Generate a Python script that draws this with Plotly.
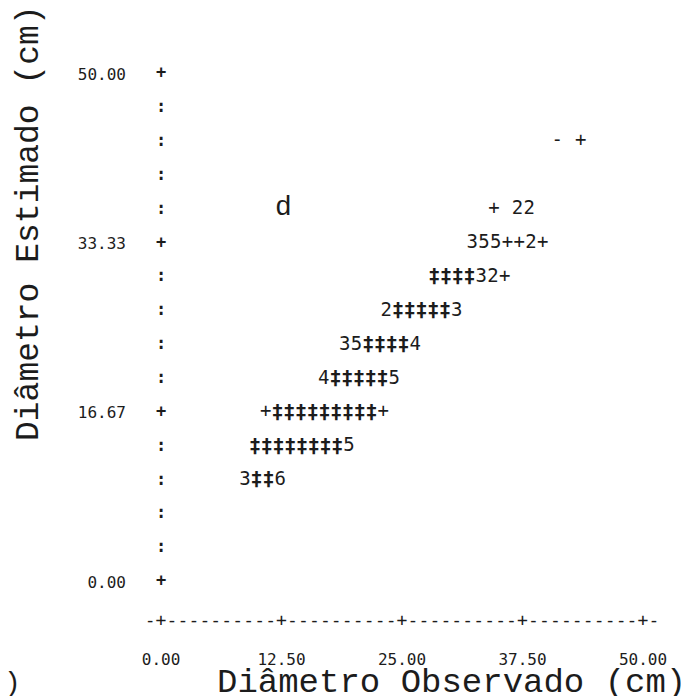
import plotly.graph_objects as go

# ---- data: printed rows of the line-printer scatter (y = estimated, x = observed)
row_y = [43.33, 36.67, 33.33, 30.00, 26.67, 23.33, 20.00, 16.67, 13.33, 10.00]
row_x0 = [41.10, 34.53, 32.28, 28.34, 23.36, 19.06, 16.88, 10.86, 9.75, 8.70]
row_text = ["- +", "+ 22", "355++2+", "‡‡‡‡32+", "2‡‡‡‡‡3",
            "35‡‡‡‡4", "4‡‡‡‡‡5", "+‡‡‡‡‡‡‡‡‡+", "‡‡‡‡‡‡‡‡5", "3‡‡6"]
col_step = 1.22

x_ticks = [0, 12.5, 25, 37.5, 50]
x_ticktext = ["0.00", "12.50", "25.00", "37.50", "50.00"]
y_ticks = [0, 16.67, 33.33, 50]
y_ticktext = ["0.00", "16.67", "33.33", "50.00"]
y_rows = [k * 50 / 15 for k in range(16)]
x_axis_row = -3.9
x_cols_per_tick = 11

INK = "#1c1c1c"
OFF = 8  # page body margin
W, H = 689 - OFF, 696 - OFF
ML, MR, MT, MB = 127, 20, 12, 48
XR = [-2.70, 52.70]
YR = [-6.50, 55.31]

# expand glyphs
gx, gy, gt = [], [], []
bx, by, bt = [], [], []
for y, x0, s in zip(row_y, row_x0, row_text):
    for i, ch in enumerate(s):
        if ch == " ":
            continue
        if ch == "‡":
            bx.append(x0 + i * col_step); by.append(y); bt.append(ch)
        else:
            gx.append(x0 + i * col_step); gy.append(y); gt.append(ch)

# y axis printed column
ax_y = y_rows
ax_t = ["+" if k % 5 == 0 else ":" for k in range(16)]
ax_x = [0] * len(ax_y)

# x axis printed line
step = x_ticks[1] / x_cols_per_tick
lx, lt = [], []
n_total = x_cols_per_tick * (len(x_ticks) - 1)
for k in range(-1, n_total + 2):
    lx.append(k * step)
    lt.append("+" if (k >= 0 and k % x_cols_per_tick == 0) else "-")
ly = [x_axis_row] * len(lx)

fig = go.Figure()
fig.add_trace(go.Scatter(x=gx, y=gy, text=gt, mode="text", cliponaxis=False,
                         textfont=dict(family="DejaVu Sans Mono", size=19, color=INK),
                         hoverinfo="skip", showlegend=False))
fig.add_trace(go.Scatter(x=bx, y=by, text=bt, mode="text", cliponaxis=False,
                         textfont=dict(family="DejaVu Sans Mono", size=20, color=INK, weight="bold"),
                         hoverinfo="skip", showlegend=False))
fig.add_trace(go.Scatter(x=ax_x, y=ax_y, text=ax_t, mode="text", cliponaxis=False,
                         textfont=dict(family="DejaVu Sans Mono", size=17, color=INK, weight="bold"),
                         hoverinfo="skip", showlegend=False))
fig.add_trace(go.Scatter(x=lx, y=ly, text=lt, mode="text", cliponaxis=False,
                         textfont=dict(family="DejaVu Sans Mono", size=18, color=INK),
                         hoverinfo="skip", showlegend=False))

def px_x(p):
    return (p - OFF - ML) / (W - ML - MR)

def px_y(p):
    return 1 - (p - OFF - MT) / (H - MT - MB)

annotations = [
    dict(text="Diâmetro Observado (cm)", xref="paper", yref="paper",
         x=px_x(688), y=px_y(683), xanchor="right", yanchor="middle", showarrow=False,
         font=dict(family="Liberation Mono", size=34, color=INK)),
    dict(text="Diâmetro Estimado (cm)", xref="paper", yref="paper",
         x=px_x(29), y=px_y(223), xanchor="center", yanchor="middle", showarrow=False,
         textangle=-90, font=dict(family="Liberation Mono", size=33, color=INK)),
    dict(text="d", xref="x", yref="y", x=12.66, y=36.9, showarrow=False,
         xanchor="center", yanchor="middle",
         font=dict(family="Liberation Mono", size=28, color=INK)),
    dict(text=")", xref="paper", yref="paper", x=px_x(12), y=px_y(683),
         xanchor="center", yanchor="middle",
         showarrow=False, font=dict(family="Liberation Mono", size=28, color=INK)),
]

fig.update_layout(
    width=W, height=H,
    margin=dict(l=ML, r=MR, t=MT, b=MB, pad=0),
    paper_bgcolor="white", plot_bgcolor="white",
    annotations=annotations,
    hovermode=False,
    xaxis=dict(range=XR, tickvals=x_ticks, ticktext=x_ticktext, showgrid=False,
               zeroline=False, showline=False, ticks="",
               tickfont=dict(family="DejaVu Sans Mono", size=16, color=INK)),
    yaxis=dict(range=YR, tickvals=y_ticks, ticktext=y_ticktext, showgrid=False,
               zeroline=False, showline=False, ticks="", ticklabelstandoff=8,
               tickfont=dict(family="DejaVu Sans Mono", size=16, color=INK)),
)

fig.write_html("out.html")
